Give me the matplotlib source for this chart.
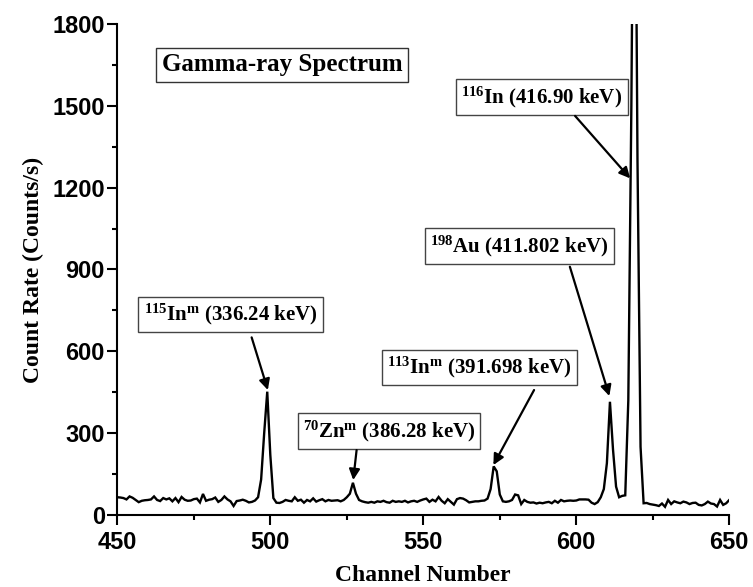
import numpy as np
import matplotlib
matplotlib.use('Agg')
import matplotlib.pyplot as plt
from matplotlib.ticker import MultipleLocator

plt.rcParams['mathtext.fontset'] = 'custom'
plt.rcParams['mathtext.rm'] = 'Liberation Serif:bold'
plt.rcParams['mathtext.bf'] = 'Liberation Serif:bold'
plt.rcParams['mathtext.default'] = 'rm'

# ---------------------------------------------------------------------------
# Spectrum: one count-rate value per channel, 450 .. 650
# ---------------------------------------------------------------------------
channels = np.arange(450, 651)
counts = [
    65, 64, 62, 57, 68, 63, 55, 47, 52, 54,          # 450
    55, 57, 68, 55, 51, 62, 57, 61, 50, 62,          # 460
    47, 66, 56, 52, 53, 58, 60, 46, 77, 52,          # 470
    56, 58, 64, 48, 55, 68, 57, 50, 33, 51,          # 480
    53, 56, 52, 46, 48, 53, 65, 130, 300, 452,       # 490
    220, 62, 45, 44, 48, 55, 52, 50, 65, 52,         # 500
    56, 45, 55, 50, 61, 49, 54, 58, 50, 55,          # 510
    52, 53, 54, 50, 55, 65, 78, 118, 78, 55,         # 520
    50, 47, 45, 48, 45, 50, 48, 52, 47, 45,          # 530
    52, 48, 50, 48, 52, 46, 50, 52, 48, 53,          # 540
    57, 60, 48, 56, 50, 66, 52, 43, 58, 48,          # 550
    38, 58, 62, 60, 54, 46, 48, 50, 50, 52,          # 560
    53, 60, 95, 178, 160, 75, 50, 48, 50, 55,        # 570
    75, 72, 40, 55, 48, 45, 46, 42, 45, 43,          # 580
    46, 48, 43, 52, 45, 55, 50, 52, 53, 52,          # 590
    53, 57, 57, 57, 56, 45, 40, 47, 65, 95,          # 600
    190, 415, 240, 104, 65, 70, 72, 420, 1500, 3000,  # 610
    1300, 250, 43, 44, 40, 38, 36, 33, 42, 30,       # 620
    55, 40, 50, 46, 43, 49, 46, 40, 44, 45,          # 630
    37, 35, 40, 49, 42, 40, 31, 55, 37, 43,          # 640
    55,                                              # 650
]

# Peak labels: text, label centre (channel, rate), arrow start, arrow tip
peak_labels = [
    r'$^{116}$In (416.90 keV)',
    r'$^{198}$Au (411.802 keV)',
    r'$^{115}$In$^{\mathrm{m}}$ (336.24 keV)',
    r'$^{70}$Zn$^{\mathrm{m}}$ (386.28 keV)',
    r'$^{113}$In$^{\mathrm{m}}$ (391.698 keV)',
]
label_pos = [(588.8, 1532), (581.3, 986), (487.0, 735), (538.8, 308), (568.4, 540)]
arrow_from = [(599.6, 1463), (597.9, 910), (493.9, 651), (528.2, 238), (586.2, 458)]
arrow_to = [(617.6, 1234), (610.8, 436), (499.2, 458), (527.1, 128), (572.9, 183)]

SERIF = 'Liberation Serif'
SANS = 'Liberation Sans'

fig = plt.figure(figsize=(7.53, 5.87), dpi=100)
ax = fig.add_axes([0.1558, 0.1227, 0.8127, 0.8365])

ax.plot(channels, counts, color='black', lw=1.7, solid_joinstyle='miter')

ax.set_xlim(450, 650)
ax.set_ylim(0, 1800)
ax.xaxis.set_major_locator(MultipleLocator(50))
ax.xaxis.set_minor_locator(MultipleLocator(25))
ax.yaxis.set_major_locator(MultipleLocator(300))
ax.yaxis.set_minor_locator(MultipleLocator(150))

for side in ('top', 'right'):
    ax.spines[side].set_visible(False)
for side in ('left', 'bottom'):
    ax.spines[side].set_linewidth(1.5)

ax.tick_params(which='major', direction='out', length=7, width=1.5, pad=2)
ax.tick_params(axis='x', which='major', pad=4.5)
ax.tick_params(which='minor', direction='out', length=3.5, width=1.5)
for lab in ax.get_xticklabels() + ax.get_yticklabels():
    lab.set_fontfamily(SANS)
    lab.set_fontweight('bold')
    lab.set_fontsize(17)

ax.set_xlabel('Channel Number', fontfamily=SERIF, fontweight='bold',
              fontsize=17, labelpad=8)
ax.set_ylabel('Count Rate (Counts/s)', fontfamily=SERIF, fontweight='bold',
              fontsize=17, labelpad=6)

# Title box
ax.text(503.8, 1651, 'Gamma-ray Spectrum', fontfamily=SERIF, fontweight='bold',
        fontsize=18, ha='center', va='center',
        bbox=dict(boxstyle='square,pad=0.22', facecolor='white',
                  edgecolor='#333333', lw=1))

# Peak annotations
for text, pos, start, tip in zip(peak_labels, label_pos, arrow_from, arrow_to):
    ax.text(pos[0], pos[1], text, fontfamily=SERIF, fontweight='bold',
            fontsize=15, ha='center', va='center',
            bbox=dict(boxstyle='square,pad=0.25', facecolor='white',
                      edgecolor='#444444', lw=1))
    ax.annotate('', xy=tip, xytext=start,
                arrowprops=dict(arrowstyle='-|>', color='black', lw=1.6,
                                mutation_scale=16, shrinkA=0, shrinkB=0))

fig.savefig('out.png', dpi=100, facecolor='white')
